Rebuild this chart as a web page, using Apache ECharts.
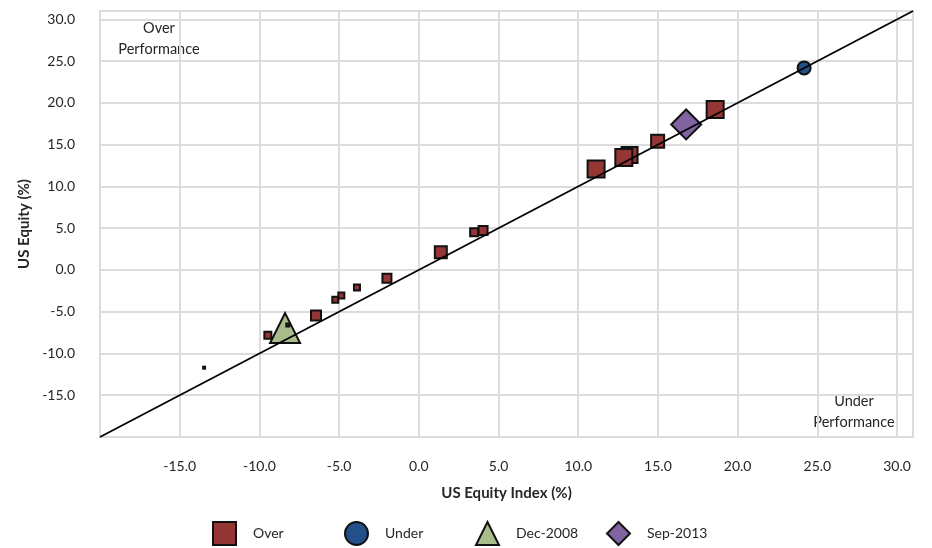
<!DOCTYPE html>
<html>
<head>
<meta charset="utf-8">
<script src="https://cdn.jsdelivr.net/npm/echarts@6/dist/echarts.min.js"></script>
<style>
html,body{margin:0;padding:0;background:#fff;}
#chart{width:932px;height:548px;}
</style>
</head>
<body>
<div id="chart"></div>
<script>
// ---- data ----
const overX = [-13.47, -9.47, -8.22, -6.45, -5.24, -4.86, -3.88, -2.0, 1.38, 3.47, 4.03, 11.12, 13.22, 12.86, 14.98, 18.59];
const overY = [-11.7, -7.83, -6.6, -5.44, -3.58, -3.05, -2.10, -0.98, 2.12, 4.51, 4.72, 12.08, 13.75, 13.47, 15.42, 19.21];
const overWeight = [2, 7, 3, 10, 6, 6, 6, 9, 12, 8, 9, 17, 16, 17, 13, 17];
const underX = [24.17];
const underY = [24.19];
const underWeight = [13];
const dec2008X = [-8.39];
const dec2008Y = [-6.96];
const dec2008Weight = [30];
const sep2013X = [16.77];
const sep2013Y = [17.42];
const sep2013Weight = [30];
const diagonal = [[-20, -20], [31, 31]];
const tickValues = [-15, -10, -5, 0, 5, 10, 15, 20, 25, 30];
const seriesNames = ['Over', 'Under', 'Dec-2008', 'Sep-2013'];
const xAxisName = 'US Equity Index (%)';
const yAxisName = 'US Equity (%)';
const overLabel = 'Over\nPerformance';
const underLabel = 'Under\nPerformance';

function pts(xs, ys, ws) { return xs.map((x, i) => [x, ys[i], ws[i]]); }

const FONT = 'Lato';
const GRID_C = '#dcdcdc';
const TXT = '#262626';

const axisCommon = {
  type: 'value', min: -20, max: 31, interval: 5,
  axisLine: { show: false },
  axisTick: { show: true, length: 12, lineStyle: { color: GRID_C, width: 2 }, customValues: tickValues },
  splitLine: { show: true, lineStyle: { color: GRID_C, width: 2 } },
  nameLocation: 'middle',
  nameTextStyle: { fontFamily: FONT, fontWeight: 'bold', fontSize: 15, color: TXT }
};

const legendLefts = [212, 344, 475, 606];
const legends = seriesNames.map((n, i) => ({
  data: [n], left: legendLefts[i], top: 521, padding: 0,
  itemWidth: 23, itemHeight: 23,
  textStyle: { fontFamily: FONT, fontSize: 14, color: TXT, padding: [3, 0, 0, 12] }
}));

const chart = echarts.init(document.getElementById('chart'));
chart.setOption({
  animation: false,
  backgroundColor: '#fff',
  grid: { left: 100, right: 19, top: 11, bottom: 111, show: true, borderColor: GRID_C, borderWidth: 2, backgroundColor: '#fff' },
  xAxis: Object.assign({}, axisCommon, {
    name: xAxisName, nameGap: 49,
    axisLabel: { customValues: tickValues, margin: 22, fontFamily: FONT, fontSize: 14, color: TXT, formatter: v => v.toFixed(1) }
  }),
  yAxis: Object.assign({}, axisCommon, {
    name: yAxisName, nameGap: 68, nameRotate: 90,
    axisLabel: { customValues: tickValues, margin: 25, fontFamily: FONT, fontSize: 14, color: TXT, formatter: v => v.toFixed(1) }
  }),
  legend: legends,
  graphic: [
    { type: 'text', x: 159, y: 17.5, style: { text: overLabel, font: '14.5px Lato', fill: TXT, align: 'center', verticalAlign: 'top', lineHeight: 21 } },
    { type: 'text', x: 854, y: 390.5, style: { text: underLabel, font: '14.5px Lato', fill: TXT, align: 'center', verticalAlign: 'top', lineHeight: 21 } }
  ],
  series: [
    {
      name: 'Dec-2008', type: 'scatter', z: 2, symbol: 'triangle',
      symbolSize: v => v[2], data: pts(dec2008X, dec2008Y, dec2008Weight),
      itemStyle: { color: '#a9bc8c', borderColor: '#111', borderWidth: 2, opacity: 1 }
    },
    {
      name: 'Over', type: 'scatter', z: 3, symbol: 'rect',
      symbolSize: v => v[2], data: pts(overX, overY, overWeight),
      itemStyle: { color: '#943634', borderColor: '#111', borderWidth: 2, opacity: 1 }
    },
    {
      name: 'Under', type: 'scatter', z: 3, symbol: 'circle',
      symbolSize: v => v[2], data: pts(underX, underY, underWeight),
      itemStyle: { color: '#24508a', borderColor: '#111', borderWidth: 2, opacity: 1 }
    },
    {
      name: 'Sep-2013', type: 'scatter', z: 3, symbol: 'diamond',
      symbolSize: v => v[2], data: pts(sep2013X, sep2013Y, sep2013Weight),
      itemStyle: { color: '#8064a2', borderColor: '#111', borderWidth: 2, opacity: 1 }
    },
    {
      name: 'diag', type: 'line', z: 6, data: diagonal, symbol: 'none', silent: true,
      lineStyle: { color: '#000', width: 1.8 }
    }
  ]
});
</script>
</body>
</html>
